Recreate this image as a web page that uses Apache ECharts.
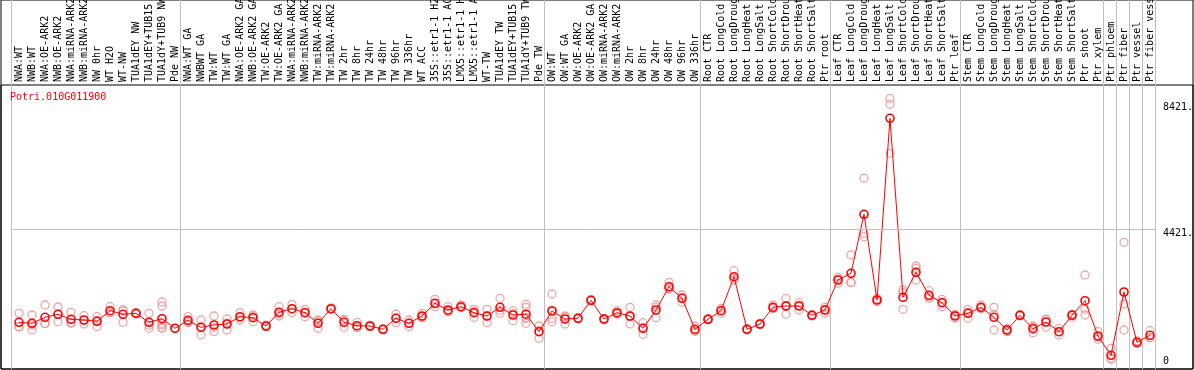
<!DOCTYPE html>
<html>
<head>
<meta charset="utf-8">
<script src="https://cdn.jsdelivr.net/npm/echarts@6.0.0/dist/echarts.min.js"></script>
<style>
html,body{margin:0;padding:0;background:#fff;}
#chart{width:1194px;height:370px;}
</style>
</head>
<body>
<div id="chart"></div>
<script>
const geneId = 'Potri.010G011900';

const categories = [
  'NWA:WT','NWB:WT','NWA:OE-ARK2','NWB:OE-ARK2','NWA:miRNA-ARK2','NWB:miRNA-ARK2','NW 0hr','WT H2O','WT-NW','TUA1dEY NW','TUA1dEY+TUB15 NW','TUA1dY+TUB9 NW','Pde NW',
  'NWA:WT GA','NWBWT GA','TW:WT','TW:WT GA','NWA:OE-ARK2 GA','NWB:OE-ARK2 GA','TW:OE-ARK2','TW:OE-ARK2 GA','NWA:miRNA-ARK2','NWB:miRNA-ARK2','TW:miRNA-ARK2','TW:miRNA-ARK2 GA',
  'TW 2hr','TW 8hr','TW 24hr','TW 48hr','TW 96hr','TW 336hr','WT ACC','35S::etr1-1 H2O','35S::etr1-1 ACC','LMX5::etr1-1 H2O','LMX5::etr1-1 ACC','WT-TW','TUA1dEY TW','TUA1dEY+TUB15 TW','TUA1dY+TUB9 TW','Pde TW',
  'OW:WT','OW:WT GA','OW:OE-ARK2','OW:OE-ARK2 GA','OW:miRNA-ARK2','OW:miRNA-ARK2 GA','OW 2hr','OW 8hr','OW 24hr','OW 48hr','OW 96hr','OW 336hr',
  'Root CTR','Root LongCold','Root LongDrought','Root LongHeat','Root LongSalt','Root ShortCold','Root ShortDrought','Root ShortHeat','Root ShortSalt','Ptr root',
  'Leaf CTR','Leaf LongCold','Leaf LongDrought','Leaf LongHeat','Leaf LongSalt','Leaf ShortCold','Leaf ShortDrought','Leaf ShortHeat','Leaf ShortSalt','Ptr leaf',
  'Stem CTR','Stem LongCold','Stem LongDrought','Stem LongHeat','Stem LongSalt','Stem ShortCold','Stem ShortDrought','Stem ShortHeat','Stem ShortSalt','Ptr shoot','Ptr xylem',
  'Ptr phloem','Ptr fiber','Ptr vessel','Ptr fiber vessel'
];

// first category index of each sample group (group dividers)
const groupStarts = [0, 13, 41, 53, 63, 73, 84, 85, 86, 87];

const meanValues = [
  1452,1421,1611,1707,1548,1525,1484,1821,1707,1738,1452,1567,1262,
  1516,1293,1367,1398,1630,1599,1335,1770,1885,1757,1421,1885,
  1452,1344,1335,1230,1579,1421,1653,2056,1843,1948,1757,1653,1929,1684,1710,1154,
  1811,1557,1579,2152,1557,1757,1653,1262,1843,2584,2215,1230,
  1548,1821,2902,1230,1398,1929,1970,1970,1675,1843,
  2797,3010,4885,2161,7935,2247,3041,2310,2075,1653,
  1738,1929,1611,1208,1675,1249,1462,1154,1675,2139,1017,
  404,2415,817,1039
];

const replicateValues = [
  [1738,1313,1305],[1684,1371,1208],[2002,1421,1410],[1939,1711,1471],[1770,1453,1421],[1662,1515,1398],[1630,1509,1313],[1948,1758,1757],[1858,1811,1452],[1760,1738,1716],[1738,1356,1262],[2097,1970,1420,1367,1271,1280],[1262],
  [1630,1480,1440],[1525,1305,1049],[1653,1294,1154],[1557,1429,1208],[1757,1608,1525],[1684,1642,1471],[1360,1335,1310],[1948,1709,1653],[2024,1874,1757],[1865,1776,1630],[1525,1476,1262],[1910,1885,1860],
  [1530,1533,1293],[1452,1300,1280],[1360,1335,1310],[1250,1230,1210],[1716,1581,1440],[1525,1425,1313],[1738,1620,1601],[2183,2037,1948],[1948,1792,1789],[2002,1930,1912],[1865,1795,1611],[1865,1654,1440],[2215,1834,1738],[1821,1728,1503],[2024,1929,1597,1579,1421],[1335,1183,944],
  [2352,1840,1579,1471],[1653,1620,1398],[1600,1579,1558],[2175,2152,2130],[1580,1557,1534],[1821,1740,1710],[1929,1632,1398],[1440,1275,1071],[2002,1929,1598],[2724,2527,2501],[2320,2237,2088],[1335,1190,1165],
  [1570,1548,1526],[1897,1828,1738],[3092,2819,2795],[1250,1230,1210],[1420,1398,1376],[2002,1900,1885],[2215,1988,1707],[2075,1992,1843],[1700,1675,1650],[1929,1862,1738],
  [2882,2817,2692],[3591,2728,2711],[6029,4281,4173],[2215,2161,2107],[8571,8380,6823],[2479,2397,1865],[3242,3168,2797],[2457,2258,2215],[2183,2094,1948],[1700,1680,1579],
  [1865,1770,1579],[2002,1900,1885],[1929,1696,1208],[1262,1208,1154],[1700,1675,1650],[1335,1290,1122],[1548,1545,1293],[1262,1151,1049],[1714,1700,1611],[2956,1865,1684],[1154,985,912],
  [626,308,278],[3995,2034,1208],[868,800,783],[1185,970,962]
];

const yTickValues = [0, 4421, 8421];
const yMax = 8993;

const MONO = 'DejaVu Sans Mono';
const replicatePoints = [];
replicateValues.forEach((reps, i) => reps.forEach(v => replicatePoints.push([i, v])));

const chart = echarts.init(document.getElementById('chart'), null, {renderer: 'canvas'});
chart.setOption({
  animation: false,
  backgroundColor: '#fff',
  title: {
    text: geneId, left: 10, top: 92, padding: 0,
    textStyle: {color: '#ff0000', fontSize: 10, fontFamily: MONO, fontWeight: 'normal'}
  },
  grid: [
    {left: 12.5, right: 37.5, top: 85, bottom: 2, containLabel: false, outerBoundsMode: 'none'},
    {left: 11, right: 39, top: 0, bottom: 1, containLabel: false, outerBoundsMode: 'none'},
    {left: 1, right: 1, top: 85, bottom: 1, show: true, borderColor: '#000', borderWidth: 1, backgroundColor: 'transparent', containLabel: false, outerBoundsMode: 'none'},
    {left: 1, right: 1, top: 0, bottom: 1, show: true, borderColor: '#000', borderWidth: 1, backgroundColor: 'transparent', containLabel: false, outerBoundsMode: 'none'}
  ],
  xAxis: [
    {
      gridIndex: 0, type: 'category', data: categories, position: 'top', boundaryGap: true,
      axisLine: {show: false}, axisTick: {show: false}, splitLine: {show: false},
      axisLabel: {interval: 0, rotate: 90, margin: 3, fontFamily: MONO, fontSize: 10, color: '#000', hideOverlap: false}
    },
    {
      gridIndex: 1, type: 'category', data: categories, boundaryGap: true,
      axisLine: {show: false}, axisTick: {show: false}, axisLabel: {show: false},
      splitLine: {show: true, interval: (idx) => groupStarts.indexOf(idx) >= 0, lineStyle: {color: '#c0c0c0', width: 1}}
    },
    {gridIndex: 2, type: 'value', show: false},
    {gridIndex: 3, type: 'value', show: false}
  ],
  yAxis: [
    {
      gridIndex: 0, type: 'value', position: 'right', min: 0, max: yMax,
      axisLine: {show: false}, axisTick: {show: false}, splitLine: {show: false},
      axisLabel: {
        customValues: yTickValues, margin: 6.5, fontFamily: MONO, fontSize: 10, color: '#000',
        formatter: (v) => v === 0 ? '{z|0}' : '{t|' + v + '.}',
        rich: {
          t: {fontFamily: MONO, fontSize: 10, lineHeight: 12, color: '#000', padding: [9, 0, 0, 0]},
          z: {fontFamily: MONO, fontSize: 10, lineHeight: 12, color: '#000', padding: [0, 0, 13, 0]}
        }
      }
    },
    {gridIndex: 1, type: 'value', show: false},
    {gridIndex: 2, type: 'value', show: false},
    {gridIndex: 3, type: 'value', show: false}
  ],
  series: [
    {
      type: 'scatter', xAxisIndex: 0, yAxisIndex: 0, data: replicatePoints,
      symbol: 'circle', symbolSize: 8, z: 2,
      itemStyle: {color: 'rgba(0,0,0,0)', borderColor: '#ec9090', borderWidth: 1.3},
      markLine: {
        silent: true, symbol: ['none', 'none'], label: {show: false},
        lineStyle: {color: '#c0c0c0', type: 'solid', width: 1},
        data: [{yAxis: yTickValues[1]}]
      }
    },
    {
      type: 'line', xAxisIndex: 0, yAxisIndex: 0, data: meanValues, z: 3,
      symbol: 'circle', symbolSize: 8, showAllSymbol: true,
      lineStyle: {color: '#ff0000', width: 1},
      itemStyle: {color: 'rgba(0,0,0,0)', borderColor: '#ff0000', borderWidth: 1.6}
    }
  ]
});
</script>
</body>
</html>
